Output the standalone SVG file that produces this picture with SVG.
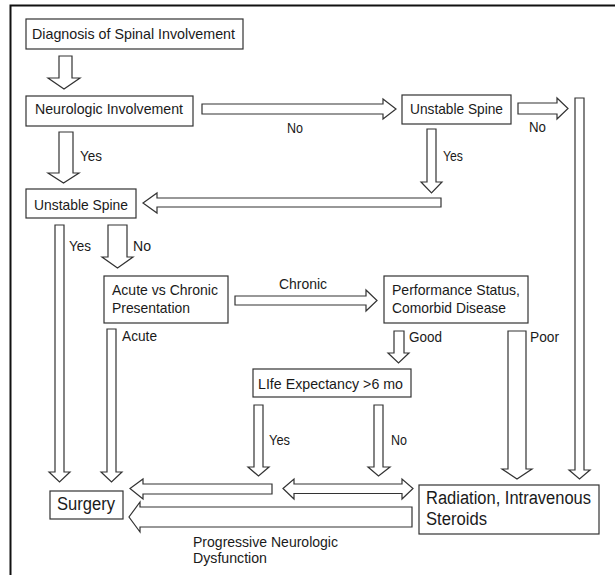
<svg xmlns="http://www.w3.org/2000/svg" width="615" height="575" viewBox="0 0 615 575">
<style>
.box{fill:#fff;stroke:#333;stroke-width:1.2}
.arr{fill:#fff;stroke:#333;stroke-width:1.2;stroke-linejoin:miter}
text{font-family:"Liberation Sans Narrow","Liberation Sans",Arial,sans-serif;font-size:15px;fill:#1a1a1a}
.big{font-size:18px}
</style>
<rect width="615" height="575" fill="#fff"/>
<path d="M10.5,575 V5.5 H615" fill="none" stroke="#111" stroke-width="2"/>

<g id="connectors">
  <!-- Diagnosis -> Neurologic -->
  <polygon class="arr" points="59,56 72,56 72,78 80,78 64,89 48,78 59,78"/>
  <!-- Neurologic Yes down -->
  <polygon class="arr" points="59,132 73,132 73,173 79,173 63.5,183 48,173 59,173"/>
  <!-- Neurologic No right -->
  <polygon class="arr" points="202,104 383,104 383,99 396,109 383,119 383,114 202,114"/>
  <!-- Unstable (top) No right -->
  <polygon class="arr" points="518,103 557,103 557,98 568,108.5 557,119 557,114 518,114"/>
  <!-- long bar right down to Radiation -->
  <polygon class="arr" points="575,98 584,98 584,470 590,470 579.5,479 569,470 575,470"/>
  <!-- Unstable top Yes down -->
  <polygon class="arr" points="427,129 436,129 436,182 442,182 431.5,193 421,182 427,182"/>
  <!-- left arrow to Unstable Spine (left) -->
  <polygon class="arr" points="441,198 157,198 157,193 143,203 157,213 157,207 441,207"/>
  <!-- Unstable left Yes down to Surgery -->
  <polygon class="arr" points="55,225 64,225 64,472 70,472 59.5,482 49,472 55,472"/>
  <!-- Unstable left No down -->
  <polygon class="arr" points="108,225 127,225 127,257 133,257 117.5,268 102,257 108,257"/>
  <!-- Chronic right -->
  <polygon class="arr" points="235,296 366,296 366,290 377,300.5 366,311 366,305 235,305"/>
  <!-- Good down -->
  <polygon class="arr" points="394,331 404,331 404,353 409,353 398.5,363 388,353 394,353"/>
  <!-- Poor down -->
  <polygon class="arr" points="508,331 526,331 526,469 532,469 517,479 502,469 508,469"/>
  <!-- Acute down -->
  <polygon class="arr" points="107,329 116,329 116,472 122,472 111.5,482 101,472 107,472"/>
  <!-- Life Yes down -->
  <polygon class="arr" points="254,405 263,405 263,467 269,467 258.5,476 248,467 254,467"/>
  <!-- Life No down -->
  <polygon class="arr" points="374,405 383,405 383,467 390,467 378.5,476 368,467 374,467"/>
  <!-- left to Surgery -->
  <polygon class="arr" points="272,484 143,484 143,479 130,488.5 143,499 143,494 272,494"/>
  <!-- double arrow -->
  <polygon class="arr" points="283,488.5 294,479 294,484 402,484 402,479 413,488.5 402,499 402,493.5 294,493.5 294,499"/>
  <!-- progressive neurologic dysfunction -->
  <polygon class="arr" points="412,507 140,507 140,502 129,517 140,532 140,527 412,527"/>
</g>

<g id="labels">
  <text x="287" y="133" textLength="16" lengthAdjust="spacingAndGlyphs">No</text>
  <text x="529" y="132" textLength="17" lengthAdjust="spacingAndGlyphs">No</text>
  <text x="443" y="161" textLength="20" lengthAdjust="spacingAndGlyphs">Yes</text>
  <text x="80" y="161" textLength="22" lengthAdjust="spacingAndGlyphs">Yes</text>
  <text x="69" y="251" textLength="22" lengthAdjust="spacingAndGlyphs">Yes</text>
  <text x="133" y="251" textLength="18" lengthAdjust="spacingAndGlyphs">No</text>
  <text x="279" y="289" textLength="48" lengthAdjust="spacingAndGlyphs">Chronic</text>
  <text x="409" y="342" textLength="33" lengthAdjust="spacingAndGlyphs">Good</text>
  <text x="530" y="342" textLength="29" lengthAdjust="spacingAndGlyphs">Poor</text>
  <text x="122" y="341" textLength="35" lengthAdjust="spacingAndGlyphs">Acute</text>
  <text x="269" y="445" textLength="21" lengthAdjust="spacingAndGlyphs">Yes</text>
  <text x="391" y="445" textLength="16" lengthAdjust="spacingAndGlyphs">No</text>
  <text x="193" y="547" textLength="145" lengthAdjust="spacingAndGlyphs">Progressive Neurologic</text>
  <text x="193" y="563" textLength="74" lengthAdjust="spacingAndGlyphs">Dysfunction</text>
</g>

<g id="diagnosis">
  <rect class="box" x="26" y="19" width="217" height="30"/>
  <text x="32" y="39" textLength="203" lengthAdjust="spacingAndGlyphs">Diagnosis of Spinal Involvement</text>
</g>
<g id="neurologic">
  <rect class="box" x="26" y="96" width="167" height="30"/>
  <text x="35" y="114" textLength="148" lengthAdjust="spacingAndGlyphs">Neurologic Involvement</text>
</g>
<g id="unstable-top">
  <rect class="box" x="402" y="95" width="109" height="29"/>
  <text x="410" y="114" textLength="93" lengthAdjust="spacingAndGlyphs">Unstable Spine</text>
</g>
<g id="unstable-left">
  <rect class="box" x="26" y="189" width="110" height="29"/>
  <text x="34" y="210" textLength="94" lengthAdjust="spacingAndGlyphs">Unstable Spine</text>
</g>
<g id="acute-chronic">
  <rect class="box" x="104" y="276" width="124" height="47"/>
  <text x="112" y="295" textLength="106" lengthAdjust="spacingAndGlyphs">Acute vs Chronic</text>
  <text x="112" y="313" textLength="78" lengthAdjust="spacingAndGlyphs">Presentation</text>
</g>
<g id="performance">
  <rect class="box" x="384" y="276" width="144" height="47"/>
  <text x="392" y="295" textLength="128" lengthAdjust="spacingAndGlyphs">Performance Status,</text>
  <text x="392" y="313" textLength="114" lengthAdjust="spacingAndGlyphs">Comorbid Disease</text>
</g>
<g id="life-expectancy">
  <rect class="box" x="253" y="369" width="158" height="28"/>
  <text x="258" y="389" textLength="145" lengthAdjust="spacingAndGlyphs">LIfe Expectancy &gt;6 mo</text>
</g>
<g id="surgery">
  <rect class="box" x="50" y="491" width="73" height="28"/>
  <text class="big" x="57" y="510" textLength="58" lengthAdjust="spacingAndGlyphs">Surgery</text>
</g>
<g id="radiation">
  <rect class="box" x="419" y="485" width="180" height="49"/>
  <text class="big" x="426" y="504" textLength="165" lengthAdjust="spacingAndGlyphs">Radiation, Intravenous</text>
  <text class="big" x="426" y="525" textLength="61" lengthAdjust="spacingAndGlyphs">Steroids</text>
</g>
</svg>
